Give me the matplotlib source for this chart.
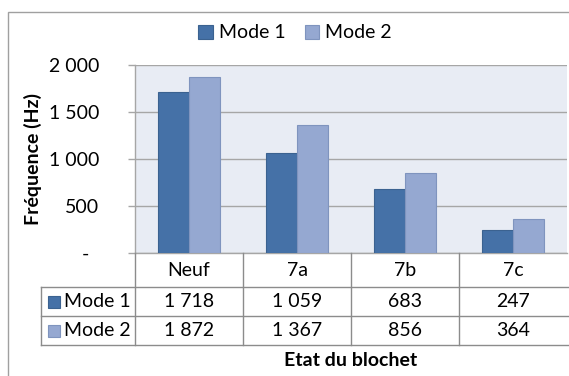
import numpy as np
import matplotlib
matplotlib.use("Agg")
import matplotlib.pyplot as plt
from matplotlib.lines import Line2D
from matplotlib.patches import Rectangle

# --- Data -------------------------------------------------------------
etats = ["Neuf", "7a", "7b", "7c"]
series_names = ["Mode 1", "Mode 2"]
mode1 = [1718, 1059, 683, 247]
mode2 = [1872, 1367, 856, 364]
y_ticks = [0, 500, 1000, 1500, 2000]
y_ticklabels = ["-  ", "500", "1 000", "1 500", "2 000"]

colors = ["#4571A7", "#95A8D1"]
edges = ["#3B6290", "#7F94BE"]
grid_color = "#A6A6A6"
table_color = "#8C8C8C"

plt.rcParams["font.family"] = ["Lato", "DejaVu Sans"]
FS = 14

W, H = 569, 376
fig = plt.figure(figsize=(W / 100, H / 100), dpi=100)


def fx(px):
    return px / W


def fy(py):
    return 1 - py / H


# plot area in pixels
x0, x1, y_top, y_bot = 135, 567, 65, 253
ax = fig.add_axes([fx(x0), fy(y_bot), fx(x1) - fx(x0), fy(y_top) - fy(y_bot)])
ax.set_facecolor("#E8ECF4")

x = np.arange(len(etats))
bw = 0.287
for i, vals in enumerate([mode1, mode2]):
    ax.bar(x + (i - 0.5) * bw, vals, bw, color=colors[i], edgecolor=edges[i],
           linewidth=0.8, label=series_names[i], zorder=3)

ax.set_xlim(-0.5, len(etats) - 0.5)
ax.set_ylim(0, 2000)
ax.set_yticks(y_ticks)
ax.set_yticklabels(y_ticklabels, fontsize=FS)
ax.set_xticks([])
ax.grid(axis="y", color=grid_color, linewidth=1.0, zorder=0)
ax.tick_params(axis="y", length=5, width=1, color=grid_color, pad=21)
for side in ["top", "right"]:
    ax.spines[side].set_visible(False)
for side in ["left", "bottom"]:
    ax.spines[side].set_color(grid_color)
    ax.spines[side].set_linewidth(1.0)

# y axis title
fig.text(fx(33), fy(159), "Fréquence (Hz)", rotation=90, ha="center",
         va="center", fontsize=FS, fontweight="bold")

# --- Data table under the plot ---------------------------------------
rows_px = [253, 287, 316, 345]
left_px = 41


def line(xa, ya, xb, yb):
    fig.add_artist(Line2D([fx(xa), fx(xb)], [fy(ya), fy(yb)], color=table_color,
                          linewidth=1.0))


for r in rows_px[1:]:
    line(left_px, r, W, r)
cat_w = (x1 - x0) / len(etats)
for k in range(len(etats)):
    xb = x0 + k * cat_w
    line(xb, rows_px[0], xb, rows_px[-1])
line(left_px, rows_px[1], left_px, rows_px[-1])

trans = ax.get_xaxis_transform()


def ax_y(py):
    return (y_bot - py) / (y_bot - y_top)


for k, name in enumerate(etats):
    ax.text(x[k], ax_y((rows_px[0] + rows_px[1]) / 2), name, transform=trans,
            ha="center", va="center", fontsize=FS, clip_on=False)

for r, (name, vals) in enumerate(zip(series_names, [mode1, mode2])):
    yc = (rows_px[r + 1] + rows_px[r + 2]) / 2
    for k, v in enumerate(vals):
        ax.text(x[k], ax_y(yc), f"{v:,}".replace(",", " "), transform=trans,
                ha="center", va="center", fontsize=FS, clip_on=False)
    fig.add_artist(Rectangle((fx(48), fy(yc + 6)), fx(12), 12 / H,
                             facecolor=colors[r], edgecolor=edges[r], linewidth=0.8))
    fig.text(fx(64), fy(yc), name, ha="left", va="center", fontsize=FS)

fig.text(fx(351), fy(360), "Etat du blochet", ha="center", va="center",
         fontsize=FS, fontweight="bold")

# legend above the plot
handles = [Rectangle((0, 0), 1, 1, facecolor=colors[i], edgecolor=edges[i], linewidth=0.8)
           for i in range(2)]
fig.legend(handles, series_names, loc="center", bbox_to_anchor=(fx(295), fy(33)),
           ncol=2, frameon=False, fontsize=FS, handlelength=0.75, handleheight=0.75,
           handletextpad=0.3, columnspacing=1.0)

# outer chart border
fig.add_artist(Rectangle((fx(8), fy(H + 10)), 1, fy(12) - fy(H + 10),
                         facecolor="none", edgecolor="#A0A0A0", linewidth=1.0))

fig.savefig("out.png", dpi=100)
